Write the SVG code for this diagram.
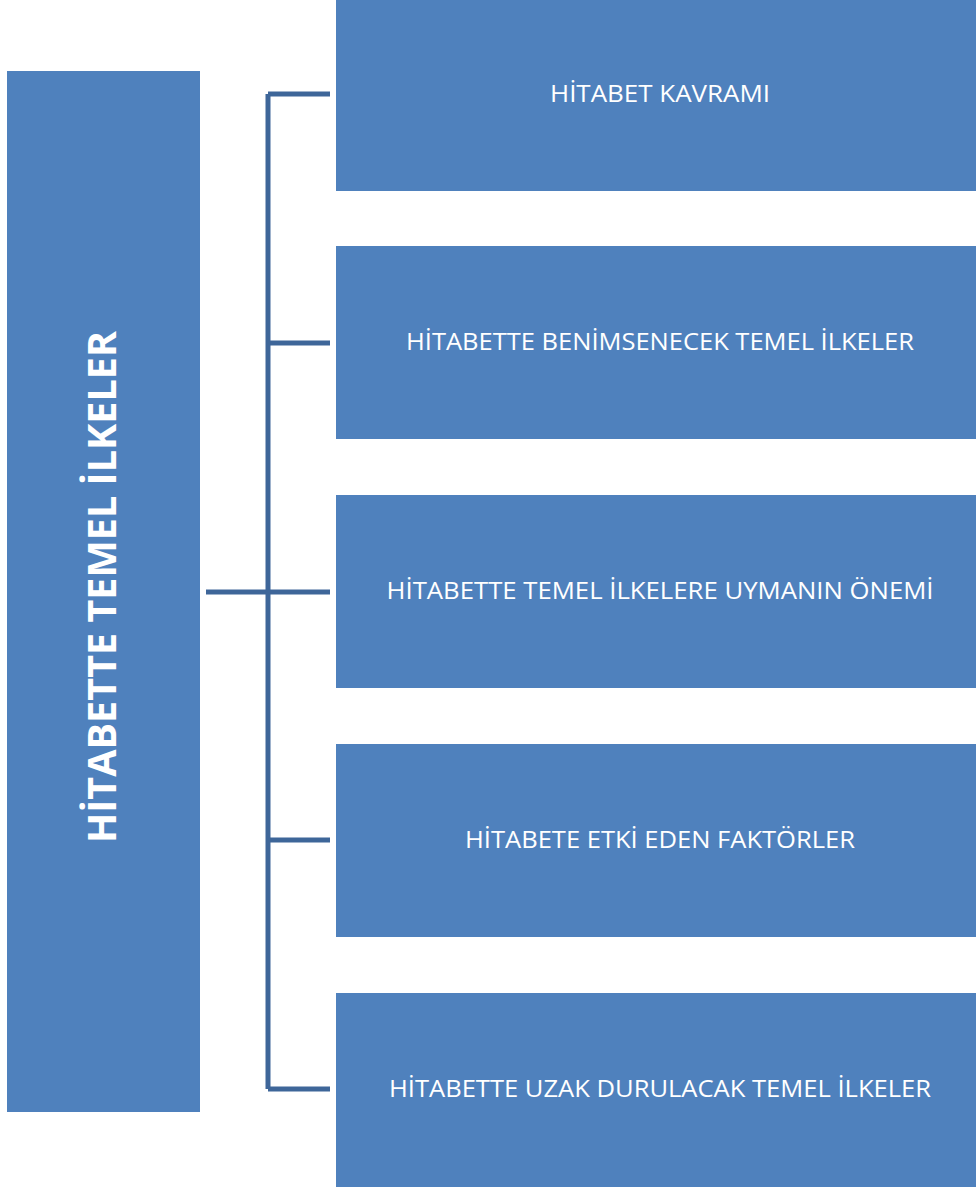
<svg xmlns="http://www.w3.org/2000/svg" width="976" height="1187" viewBox="0 0 976 1187">
<style>
.box{fill:#4f81bd;}
.t{font-family:"Open Sans","Liberation Sans",sans-serif;font-size:24px;fill:#ffffff;text-anchor:middle;}
.vt{font-family:"Open Sans","Liberation Sans",sans-serif;font-size:40px;font-weight:bold;fill:#ffffff;text-anchor:middle;}
.c{stroke:#3e6699;stroke-width:5;fill:none;}
</style>
<rect width="976" height="1187" fill="#ffffff"/>
<g id="root">
<rect class="box" x="7" y="71" width="193" height="1041"/>
<text class="vt" transform="translate(116,587) rotate(-90)" x="0" y="0" textLength="512" lengthAdjust="spacingAndGlyphs">HİTABETTE TEMEL İLKELER</text>
</g>
<g id="connectors">
<path class="c" d="M206 592H268M268 94V1089M268 94H330M268 343H330M268 592H330M268 840H330M268 1089H330"/>
</g>
<g id="n1">
<rect class="box" x="336" y="0" width="640" height="191"/>
<text class="t" x="660" y="102" textLength="220" lengthAdjust="spacingAndGlyphs">HİTABET KAVRAMI</text>
</g>
<g id="n2">
<rect class="box" x="336" y="246" width="640" height="193"/>
<text class="t" x="660" y="350" textLength="508" lengthAdjust="spacingAndGlyphs">HİTABETTE BENİMSENECEK TEMEL İLKELER</text>
</g>
<g id="n3">
<rect class="box" x="336" y="495" width="640" height="193"/>
<text class="t" x="660" y="599" textLength="547" lengthAdjust="spacingAndGlyphs">HİTABETTE TEMEL İLKELERE UYMANIN ÖNEMİ</text>
</g>
<g id="n4">
<rect class="box" x="336" y="744" width="640" height="193"/>
<text class="t" x="660" y="848" textLength="390" lengthAdjust="spacingAndGlyphs">HİTABETE ETKİ EDEN FAKTÖRLER</text>
</g>
<g id="n5">
<rect class="box" x="336" y="993" width="640" height="194"/>
<text class="t" x="660" y="1097" textLength="542" lengthAdjust="spacingAndGlyphs">HİTABETTE UZAK DURULACAK TEMEL İLKELER</text>
</g>
</svg>
